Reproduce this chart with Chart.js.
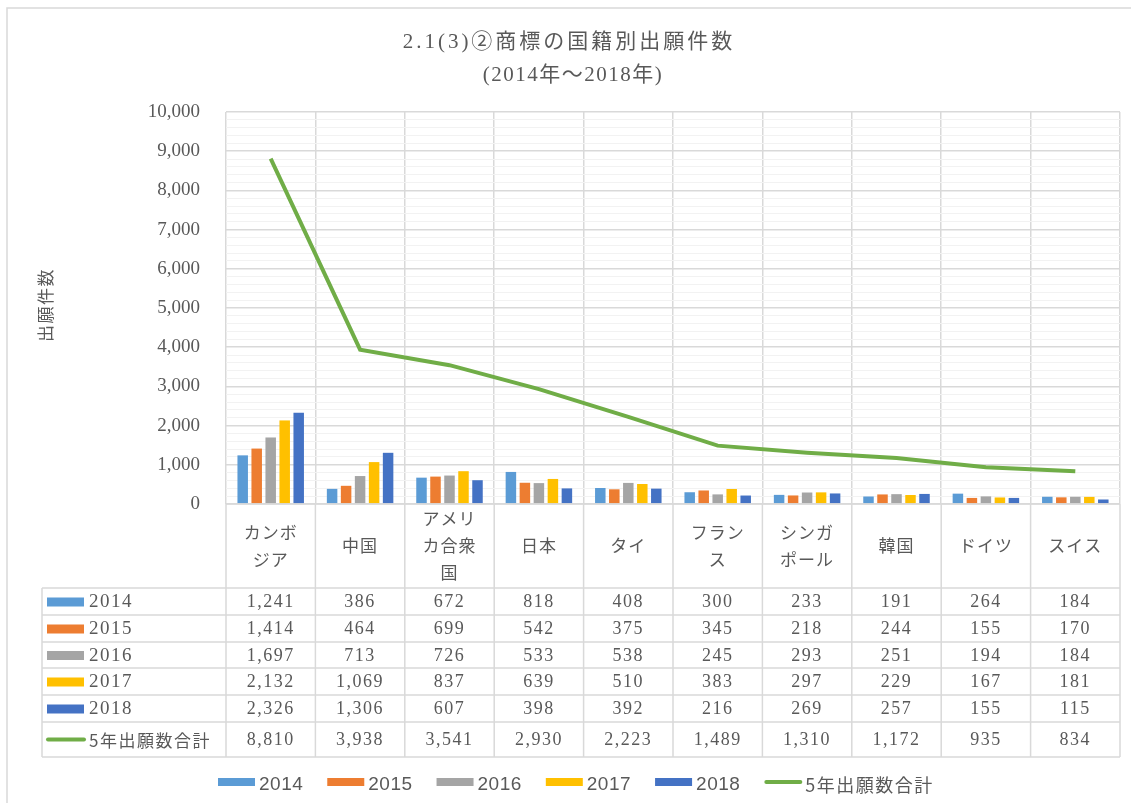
<!DOCTYPE html>
<html lang="ja">
<head>
<meta charset="utf-8">
<title>商標の国籍別出願件数</title>
<script src="https://cdn.jsdelivr.net/npm/chart.js@4.4.1/dist/chart.umd.min.js"></script>
<style>
  html, body { margin: 0; padding: 0; background: #ffffff; }
  #wrap { width: 1131px; height: 803px; position: relative; }
</style>
</head>
<body>
<div id="wrap"><canvas id="chart" width="1131" height="803"></canvas></div>
<script>
// データ
const categories = [['カンボ','ジア'], ['中国'], ['アメリ','カ合衆','国'], ['日本'], ['タイ'],
  ['フラン','ス'], ['シンガ','ポール'], ['韓国'], ['ドイツ'], ['スイス']];
const years = ['2014', '2015', '2016', '2017', '2018'];
const v2014 = [1241, 386, 672, 818, 408, 300, 233, 191, 264, 184];
const v2015 = [1414, 464, 699, 542, 375, 345, 218, 244, 155, 170];
const v2016 = [1697, 713, 726, 533, 538, 245, 293, 251, 194, 184];
const v2017 = [2132, 1069, 837, 639, 510, 383, 297, 229, 167, 181];
const v2018 = [2326, 1306, 607, 398, 392, 216, 269, 257, 155, 115];
const totals = [8810, 3938, 3541, 2930, 2223, 1489, 1310, 1172, 935, 834];
const totalLabel = '5年出願数合計';
const titleLines = ['2.1(3)②商標の国籍別出願件数', '(2014年～2018年)'];
const yTitle = '出願件数';
const yMax = 10000;
const yMajor = 1000;
const yMinor = 200;

const barColors = ['#5B9BD5', '#ED7D31', '#A5A5A5', '#FFC000', '#4472C4'];
const lineColor = '#70AD47';
const textColor = '#595959';
const gridColor = '#d9d9d9';
const minorColor = '#f2f2f2';
const serif = '"Liberation Serif", "Noto Sans CJK JP", serif';
const jp = '"Noto Sans CJK JP", sans-serif';

const barSeries = [v2014, v2015, v2016, v2017, v2018];
const fmt = n => n.toLocaleString('en-US');

// 表・凡例・タイトルを描くプラグイン
const tablePlugin = {
  id: 'dataTable',
  afterDraw(chart) {
    const ctx = chart.ctx;
    const x = chart.scales.x;
    const area = chart.chartArea;
    const n = categories.length;
    const colW = (area.right - area.left) / n;
    const tableLeft = 42;
    const headTop = area.bottom;
    const headBottom = 588;
    const rowEdges = [588, 615, 642, 668, 695, 722, 757];

    ctx.save();

    // 外枠
    ctx.strokeStyle = gridColor;
    ctx.lineWidth = 1.5;
    ctx.strokeRect(7, 8, 1131, 803);

    // タイトル
    ctx.fillStyle = textColor;
    ctx.textAlign = 'center';
    ctx.textBaseline = 'middle';
    ctx.font = '21px ' + serif;
    ctx.letterSpacing = '3px';
    ctx.fillText(titleLines[0], 569, 42);
    ctx.letterSpacing = '1.5px';
    ctx.fillText(titleLines[1], 573, 75);
    ctx.letterSpacing = '0px';

    // 縦軸タイトル
    ctx.save();
    ctx.translate(46, 305);
    ctx.rotate(-Math.PI / 2);
    ctx.font = '17px ' + jp;
    ctx.letterSpacing = '1.5px';
    ctx.fillText(yTitle, 0, 0);
    ctx.restore();

    // 表の罫線
    ctx.strokeStyle = gridColor;
    ctx.lineWidth = 1.5;
    ctx.beginPath();
    for (let i = 0; i <= n; i++) {
      const px = area.left + i * colW;
      ctx.moveTo(px, headTop);
      ctx.lineTo(px, rowEdges[rowEdges.length - 1]);
    }
    ctx.moveTo(area.left, headTop);
    ctx.lineTo(area.right, headTop);
    rowEdges.forEach(y => {
      ctx.moveTo(tableLeft, y);
      ctx.lineTo(area.right, y);
    });
    ctx.moveTo(tableLeft, headBottom);
    ctx.lineTo(tableLeft, rowEdges[rowEdges.length - 1]);
    ctx.stroke();

    // 見出し（国名）
    ctx.fillStyle = textColor;
    ctx.font = '17px ' + jp;
    ctx.letterSpacing = '1px';
    categories.forEach((lines, i) => {
      const cx = x.getPixelForValue(i);
      const cy = (headTop + headBottom) / 2;
      const lh = 27;
      lines.forEach((t, j) => {
        ctx.fillText(t, cx, cy + (j - (lines.length - 1) / 2) * lh);
      });
    });
    ctx.letterSpacing = '0px';

    // 行
    const rows = barSeries.map((vals, k) => ({ label: years[k], vals, color: barColors[k], line: false }));
    rows.push({ label: totalLabel, vals: totals, color: lineColor, line: true });
    rows.forEach((r, k) => {
      const cy = (rowEdges[k] + rowEdges[k + 1]) / 2 + 1;
      // 凡例キー
      if (r.line) {
        ctx.strokeStyle = r.color;
        ctx.lineWidth = 4;
        ctx.lineCap = 'round';
        ctx.beginPath();
        ctx.moveTo(48, cy - 1);
        ctx.lineTo(84, cy - 1);
        ctx.stroke();
      } else {
        ctx.fillStyle = r.color;
        ctx.fillRect(47, cy - 5, 37, 9);
      }
      ctx.fillStyle = textColor;
      ctx.textAlign = 'left';
      ctx.font = (r.line ? '17px ' + jp : '19px ' + serif);
      ctx.letterSpacing = r.line ? '1.5px' : '1.5px';
      ctx.fillText(r.label, 89, cy);
      ctx.textAlign = 'center';
      ctx.font = '18px ' + serif;
      ctx.letterSpacing = '1.5px';
      r.vals.forEach((v, i) => {
        ctx.fillText(fmt(v), x.getPixelForValue(i), cy);
      });
      ctx.letterSpacing = '0px';
    });

    // 凡例（下）
    const legendY = 783;
    let lx = 218;
    ctx.textAlign = 'left';
    const items = years.map((y, k) => ({ label: y, color: barColors[k], line: false }));
    items.push({ label: totalLabel, color: lineColor, line: true });
    items.forEach(it => {
      if (it.line) {
        ctx.strokeStyle = it.color;
        ctx.lineWidth = 4;
        ctx.lineCap = 'round';
        ctx.beginPath();
        ctx.moveTo(lx + 2, legendY - 1);
        ctx.lineTo(lx + 36, legendY - 1);
        ctx.stroke();
      } else {
        ctx.fillStyle = it.color;
        ctx.fillRect(lx, legendY - 5, 37, 8);
      }
      ctx.fillStyle = textColor;
      ctx.font = it.line ? '18px ' + jp : '19px "Liberation Sans", ' + jp;
      ctx.letterSpacing = it.line ? '1.5px' : '0.5px';
      ctx.fillText(it.label, lx + 41, legendY + 2);
      lx += 41 + ctx.measureText(it.label).width + 24;
      ctx.letterSpacing = '0px';
    });

    ctx.restore();
  }
};

const datasets = barSeries.map((vals, k) => ({
  type: 'bar',
  label: years[k],
  data: vals,
  backgroundColor: barColors[k],
  borderWidth: 0,
  barPercentage: 0.75,
  categoryPercentage: 0.783,
  order: 2
}));
datasets.push({
  type: 'line',
  label: totalLabel,
  data: totals,
  borderColor: lineColor,
  backgroundColor: lineColor,
  borderWidth: 4,
  pointRadius: 0,
  tension: 0,
  order: 1
});

new Chart(document.getElementById('chart'), {
  type: 'bar',
  data: { labels: categories, datasets },
  options: {
    responsive: false,
    animation: false,
    layout: { padding: { left: 0, top: 112, right: 11, bottom: 299 } },
    plugins: {
      legend: { display: false },
      title: { display: false },
      tooltip: { enabled: false }
    },
    scales: {
      x: {
        offset: true,
        ticks: { display: false },
        grid: { offset: true, color: gridColor, lineWidth: 1.5, drawTicks: false },
        border: { display: false },
        afterFit: s => { s.height = 0; }
      },
      y: {
        min: 0,
        max: yMax,
        ticks: {
          stepSize: yMinor,
          autoSkip: false,
          padding: 26,
          color: textColor,
          font: { family: serif, size: 19 },
          callback: v => (v % yMajor === 0 ? fmt(v) : '')
        },
        grid: {
          drawTicks: false,
          color: c => (c.tick && c.tick.value % yMajor === 0 ? gridColor : minorColor),
          lineWidth: c => (c.tick && c.tick.value % yMajor === 0 ? 1.5 : 1)
        },
        border: { display: false },
        afterFit: s => { s.width = 226; }
      }
    }
  },
  plugins: [tablePlugin]
});
</script>
</body>
</html>
